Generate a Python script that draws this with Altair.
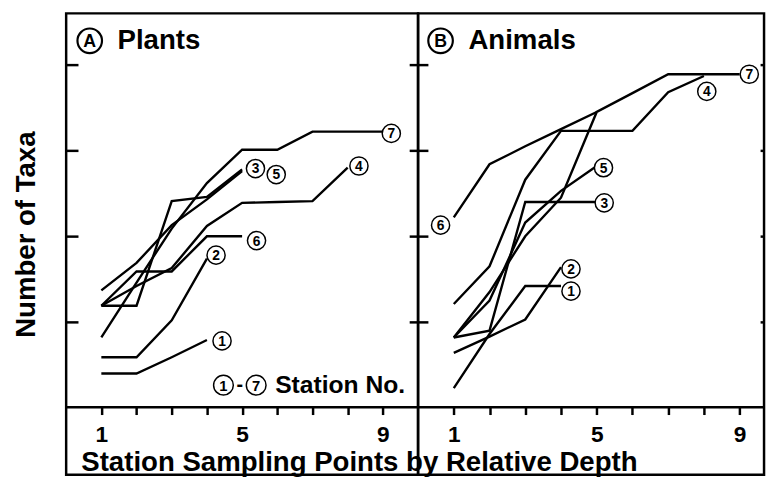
import altair as alt
import pandas as pd

FONT = "Liberation Sans"

points = [1, 2, 3, 4, 5, 6, 7, 8, 9]
stations = ["1", "2", "3", "4", "5", "6", "7"]
y_ticks = [10, 20, 30, 40]

# (A) Plants - number of taxa at successive sampling points, stations 1-7
plants_st1 = [4.0, 4.0, 5.9, 7.9]
plants_st2 = [5.9, 5.9, 10.2, 17.4]
plants_st3 = [11.9, 11.9, 24.1, 24.6, 27.8]
plants_st4 = [11.9, 14.2, 16.3, 21.2, 23.9, 24.0, 24.1, 28.0]
plants_st5 = [13.7, 16.9, 21.3, 24.3, 27.6]
plants_st6 = [11.9, 15.9, 15.9, 20.0, 20.0]
plants_st7 = [8.2, 14.6, 20.9, 26.2, 30.1, 30.1, 32.2, 32.2, 32.2]

# (B) Animals
animals_st1 = [2.3, 8.6, 14.2, 14.2]
animals_st2 = [6.4, 8.3, 10.3, 16.4]
animals_st3 = [8.2, 9.0, 24.0, 24.0, 24.0]
animals_st4 = [12.1, 16.5, 26.6, 32.3, 32.3, 32.3, 36.8, 38.7]
animals_st5 = [8.2, 12.5, 21.6, 25.3, 28.2]
animals_st6 = [22.2, 28.4, 30.5, 32.5, 34.5]
animals_st7 = [8.2, 13.5, 20.0, 24.5, 34.5, 36.7, 38.9, 38.9, 38.9]

# circled station labels
plants_label_x = [4.43, 4.26, 5.38, 8.32, 5.97, 5.41, 9.24]
plants_label_y = [7.8, 17.8, 27.9, 28.2, 27.2, 19.5, 32.0]
animals_label_x = [4.28, 4.28, 5.21, 8.08, 5.19, 0.63, 9.27]
animals_label_y = [13.6, 16.2, 23.9, 36.9, 28.0, 21.3, 38.9]

# panel headings
panel_letters = ["A", "B"]
panel_names = ["Plants", "Animals"]
panel_letter_x = [0.67, 0.63]
panel_name_x = [1.46, 1.41]
panel_letter_y = 42.8
panel_name_y = 41.8

# "(1)-(7) Station No." key in panel A
key_digits = ["1", "7"]
key_x = [4.47, 5.40]
key_y = 2.64
key_dash_x = 4.935
key_text = "Station No."
key_text_x = 5.94
key_text_y = 1.72


def long_df(lists):
    rows = []
    for st, vals in zip(stations, lists):
        for x, v in zip(points, vals):
            rows.append({"station": st, "x": x, "taxa": v})
    return pd.DataFrame(rows)


plants_df = long_df([plants_st1, plants_st2, plants_st3, plants_st4,
                     plants_st5, plants_st6, plants_st7])
animals_df = long_df([animals_st1, animals_st2, animals_st3, animals_st4,
                      animals_st5, animals_st6, animals_st7])
plants_lab = pd.DataFrame({"station": stations, "x": plants_label_x, "taxa": plants_label_y})
animals_lab = pd.DataFrame({"station": stations, "x": animals_label_x, "taxa": animals_label_y})

Y_DOMAIN = [-7.8, 46]
HEIGHT = 468
LABEL_EXPR = "datum.value == 1 || datum.value == 5 || datum.value == 9 ? datum.label : ''"


def panel(idx, line_df, lab_df, xmax, width, left_off, right_off, y_title, x_title):
    xs = alt.Scale(domain=[0, xmax], nice=False, zero=False)
    ys = alt.Scale(domain=Y_DOMAIN, nice=False, zero=False)
    x_axis = alt.Axis(
        values=points, labelExpr=LABEL_EXPR, offset=-69, grid=False,
        domain=True, domainColor="black", domainWidth=2.5,
        ticks=True, tickColor="black", tickWidth=2.5, tickSize=8,
        labelFont=FONT, labelFontSize=23, labelFontWeight="bold", labelColor="black",
        labelPadding=9, labelOverlap=False, labelFlush=False,
        title=x_title, titleFont=FONT, titleFontSize=28, titleFontWeight="bold",
        titleColor="black", titleX=297, titleY=65, titleAlign="center",
        titleBaseline="alphabetic",
    )
    X = alt.X("x:Q", scale=xs, axis=x_axis)
    left_axis_kw = dict(
        orient="left", values=y_ticks, labels=False, domain=False, grid=False,
        ticks=True, tickColor="black", tickWidth=2.5, tickSize=left_off,
        offset=-left_off,
    )
    if y_title:
        left_axis_kw.update(title=y_title, titleFont=FONT, titleFontSize=28,
                            titleFontWeight="bold", titleColor="black",
                            titleX=-40 - left_off, titleY=224, titleAngle=270,
                            titleAlign="center", titleBaseline="middle")
    else:
        left_axis_kw.update(title="")
    left_axis = alt.Axis(**left_axis_kw)
    right_axis = alt.Axis(
        orient="right", values=y_ticks, labels=False, domain=False, grid=False,
        ticks=True, tickColor="black", tickWidth=2.5, tickSize=right_off,
        offset=-right_off, title="",
    )

    lines = alt.Chart(line_df).mark_line(color="black", strokeWidth=2.4).encode(
        x=X, y=alt.Y("taxa:Q", scale=ys, axis=left_axis), detail="station:N"
    )
    circles = alt.Chart(lab_df).mark_point(
        shape="circle", filled=True, fill="white", stroke="black",
        strokeWidth=1.5, size=340, opacity=1
    ).encode(x=X, y=alt.Y("taxa:Q", scale=ys, axis=right_axis))
    digits = alt.Chart(lab_df).mark_text(
        font=FONT, fontSize=14, fontWeight="bold", color="black", baseline="middle", dy=1
    ).encode(x=X, y=alt.Y("taxa:Q", scale=ys, axis=None), text="station:N")

    head_c = pd.DataFrame({"x": [panel_letter_x[idx]], "taxa": [panel_letter_y],
                           "t": [panel_letters[idx]]})
    head_n = pd.DataFrame({"x": [panel_name_x[idx]], "taxa": [panel_name_y],
                           "t": [panel_names[idx]]})
    hc = alt.Chart(head_c).mark_point(
        shape="circle", filled=True, fill="white", stroke="black",
        strokeWidth=2.2, size=620, opacity=1
    ).encode(x=X, y=alt.Y("taxa:Q", scale=ys, axis=None))
    ht = alt.Chart(head_c).mark_text(
        font=FONT, fontSize=18, fontWeight="bold", color="black", baseline="middle", dy=1
    ).encode(x=X, y=alt.Y("taxa:Q", scale=ys, axis=None), text="t:N")
    hn = alt.Chart(head_n).mark_text(
        font=FONT, fontSize=28, fontWeight="bold", color="black",
        align="left", baseline="alphabetic"
    ).encode(x=X, y=alt.Y("taxa:Q", scale=ys, axis=None), text="t:N")

    layers = [lines, circles, digits, hc, ht, hn]

    if idx == 0:
        kc = pd.DataFrame({"x": key_x, "taxa": [key_y] * 2, "t": key_digits})
        kd = pd.DataFrame({"x": [key_dash_x], "taxa": [key_y], "t": ["-"]})
        kt = pd.DataFrame({"x": [key_text_x], "taxa": [key_text_y], "t": [key_text]})
        layers += [
            alt.Chart(kd).mark_text(
                font=FONT, fontSize=20, fontWeight="bold", color="black", baseline="middle"
            ).encode(x=X, y=alt.Y("taxa:Q", scale=ys, axis=None), text="t:N"),
            alt.Chart(kc).mark_point(
                shape="circle", filled=True, fill="white", stroke="black",
                strokeWidth=1.5, size=400, opacity=1
            ).encode(x=X, y=alt.Y("taxa:Q", scale=ys, axis=None)),
            alt.Chart(kc).mark_text(
                font=FONT, fontSize=15, fontWeight="bold", color="black", baseline="middle", dy=1
            ).encode(x=X, y=alt.Y("taxa:Q", scale=ys, axis=None), text="t:N"),
            alt.Chart(kt).mark_text(
                font=FONT, fontSize=25, fontWeight="bold", color="black",
                align="left", baseline="alphabetic"
            ).encode(x=X, y=alt.Y("taxa:Q", scale=ys, axis=None), text="t:N"),
        ]

    return alt.layer(*layers).resolve_axis(y="independent").properties(
        width=width, height=HEIGHT
    )


panel_a = panel(0, plants_df, plants_lab, 10.0, 357, 12, 9,
                "Number of Taxa", "Station Sampling Points by Relative Depth")
panel_b = panel(1, animals_df, animals_lab, 351 / 36.25, 351, 10, 4, None, "")

chart = alt.hconcat(panel_a, panel_b, spacing=0, bounds="flush").properties(
    padding={"left": 3, "top": 0, "right": 0, "bottom": 0},
    background="white",
).configure_view(stroke="black", strokeWidth=2.5)

chart.save("out.html", embed_options={"renderer": "svg", "actions": False})
